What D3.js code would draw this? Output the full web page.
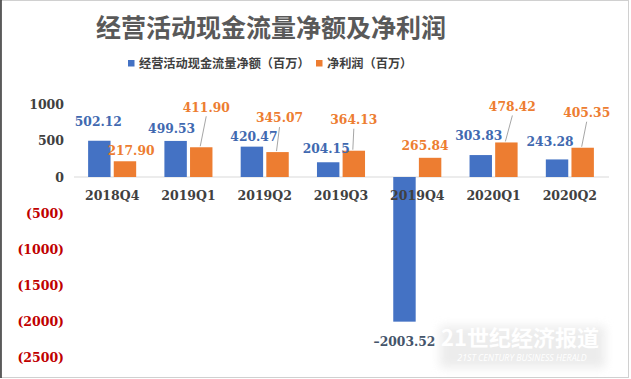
<!DOCTYPE html>
<meta charset="utf-8">
<style>
body { margin: 0; background: #fff; }
svg { display: block; }
.tick text { font-family: "DejaVu Serif", serif; font-weight: bold; }
</style>
<body>
<svg width="631" height="379"></svg>
<script src="https://cdn.jsdelivr.net/npm/d3@7"></script>
<script>

// data
var quarters = ["2018Q4", "2019Q1", "2019Q2", "2019Q3", "2019Q4", "2020Q1", "2020Q2"];
var cashFlow = [502.12, 499.53, 420.47, 204.15, -2003.52, 303.83, 243.28];
var netProfit = [217.90, 411.90, 345.07, 364.13, 265.84, 478.42, 405.35];
var seriesNames = ["经营活动现金流量净额（百万）", "净利润（百万）"];
var yTicks = [1000, 500, 0, -500, -1000, -1500, -2000, -2500];

// label nudges (px)
var cfLabelDx = [-1, -4, 2, -2, 0, -2, -7];
var cfLabelDy = [-19, -12, -10, -14, 20, -19, -18];
var npLabelDx = [6, 5, 2, 0, -5, 6, 4];
var npLabelDy = [-11, -40, -34, -31, -12, -36, -35];

var blue = "#4472c4", orange = "#ed7d31";

var svg = d3.select("svg"),
    width = +svg.attr("width"),
    height = +svg.attr("height");

// frame
svg.append("rect").attr("x", 0.5).attr("y", 0.5).attr("width", width - 3).attr("height", height - 2)
  .attr("fill", "#fff").attr("stroke", "#d0d0d0");
svg.append("line").attr("x1", 1).attr("x2", 1).attr("y1", 0).attr("y2", height - 1)
  .attr("stroke", "#333").attr("stroke-width", 1.5);

// title
svg.append("text")
  .attr("x", 271).attr("y", 37)
  .attr("text-anchor", "middle")
  .attr("font-family", "Noto Sans CJK SC")
  .attr("font-weight", "bold")
  .attr("font-size", 25)
  .attr("fill", "#595959")
  .text("经营活动现金流量净额及净利润");

// legend
var legend = svg.append("g").attr("font-family", "Noto Sans CJK SC").attr("font-size", 12.2)
  .attr("font-weight", "bold").attr("fill", "#404040");
var legX = [128, 316];
seriesNames.forEach(function(s, i) {
  legend.append("rect").attr("x", legX[i]).attr("y", 60).attr("width", 6.5).attr("height", 6.5)
    .attr("fill", i ? orange : blue);
  legend.append("text").attr("x", legX[i] + 11).attr("y", 67.5).text(s);
});

// scales
var x = d3.scaleBand().domain(quarters).range([74, 608]).paddingInner(0.37).paddingOuter(0.185);
var x1 = d3.scaleBand().domain([0, 1]).range([0, x.bandwidth()]).paddingInner(0.125);
var y = d3.scaleLinear().domain([-2500, 1000]).range([357.5, 104.8]);

// y axis
var yAxis = svg.append("g")
  .attr("transform", "translate(64,0)")
  .call(d3.axisLeft(y).tickValues(yTicks).tickSize(0).tickPadding(0)
    .tickFormat(function(d) { return d < 0 ? "(" + (-d) + ")" : d; }));
yAxis.select(".domain").remove();
yAxis.selectAll("text")
  .attr("font-size", 12.5)
  .attr("fill", function(d) { return d < 0 ? "#c00000" : "#404040"; });

// zero line
svg.append("line")
  .attr("x1", 74).attr("x2", 609)
  .attr("y1", y(0)).attr("y2", y(0))
  .attr("stroke", "#d9d9d9").attr("stroke-width", 1);

// bars
var groups = svg.selectAll(".grp")
  .data(quarters)
  .enter().append("g")
  .attr("class", "grp")
  .attr("transform", function(d) { return "translate(" + x(d) + ",0)"; });

groups.append("rect")
  .attr("x", x1(0))
  .attr("width", x1.bandwidth())
  .attr("y", function(d, i) { return y(Math.max(0, cashFlow[i])); })
  .attr("height", function(d, i) { return Math.abs(y(cashFlow[i]) - y(0)); })
  .attr("fill", blue);

groups.append("rect")
  .attr("x", x1(1))
  .attr("width", x1.bandwidth())
  .attr("y", function(d, i) { return y(Math.max(0, netProfit[i])); })
  .attr("height", function(d, i) { return Math.abs(y(netProfit[i]) - y(0)); })
  .attr("fill", orange);

// x axis labels
var xAxis = svg.append("g")
  .attr("transform", "translate(0," + (y(0) + 14) + ")")
  .call(d3.axisBottom(x).tickSize(0).tickPadding(0));
xAxis.select(".domain").remove();
xAxis.selectAll("text").attr("font-size", 12.5).attr("fill", "#404040");

// leader lines for far labels
groups.each(function(d, i) {
  var g = d3.select(this);
  var bx = x1(1) + x1.bandwidth() / 2;
  var top = y(netProfit[i]);
  if (npLabelDy[i] < -20) {
    g.append("line")
      .attr("x1", bx + npLabelDx[i]).attr("y1", top + npLabelDy[i] + 9)
      .attr("x2", bx - 1).attr("y2", top - 1)
      .attr("stroke", "#a6a6a6").attr("stroke-width", 1);
  }
});

// data labels
groups.append("text")
  .attr("x", function(d, i) { return x1(0) + x1.bandwidth() / 2 + cfLabelDx[i]; })
  .attr("y", function(d, i) { return y(Math.max(0, cashFlow[i])) + (cashFlow[i] < 0 ? Math.abs(y(cashFlow[i]) - y(0)) : 0) + cfLabelDy[i]; })
  .attr("dy", "0.35em")
  .attr("text-anchor", "middle")
  .attr("font-family", "DejaVu Serif")
  .attr("font-weight", "bold")
  .attr("font-size", 12.3)
  .attr("fill", function(d, i) { return cashFlow[i] < 0 ? "#44546a" : "#4169b0"; })
  .text(function(d, i) { return cashFlow[i] < 0 ? "\u2013" + d3.format(".2f")(-cashFlow[i]) : d3.format(".2f")(cashFlow[i]); });

groups.append("text")
  .attr("x", function(d, i) { return x1(1) + x1.bandwidth() / 2 + npLabelDx[i]; })
  .attr("y", function(d, i) { return y(netProfit[i]) + npLabelDy[i]; })
  .attr("dy", "0.35em")
  .attr("text-anchor", "middle")
  .attr("font-family", "DejaVu Serif")
  .attr("font-weight", "bold")
  .attr("font-size", 12.3)
  .attr("fill", orange)
  .text(function(d, i) { return d3.format(".2f")(netProfit[i]); });

// watermark
var defs = svg.append("defs");
defs.append("filter").attr("id", "glow").attr("x", "-20%").attr("y", "-40%").attr("width", "140%").attr("height", "180%")
  .append("feGaussianBlur").attr("stdDeviation", 5);
svg.append("rect").attr("x", 440).attr("y", 326).attr("width", 165).attr("height", 42)
  .attr("fill", "#e6e6e6").attr("opacity", 0.75).attr("filter", "url(#glow)");
svg.append("text")
  .attr("x", 520).attr("y", 346)
  .attr("text-anchor", "middle")
  .attr("font-family", "Noto Sans CJK SC")
  .attr("font-weight", "bold")
  .attr("font-size", 22)
  .attr("fill", "#fff")
  .text("21世纪经济报道");
svg.append("text")
  .attr("x", 522).attr("y", 361)
  .attr("text-anchor", "middle")
  .attr("font-family", "Open Sans")
  .attr("font-style", "italic")
  .attr("font-size", 8.8)
  .attr("fill", "#fff")
  .text("21ST CENTURY BUSINESS HERALD");

</script>
</body>
